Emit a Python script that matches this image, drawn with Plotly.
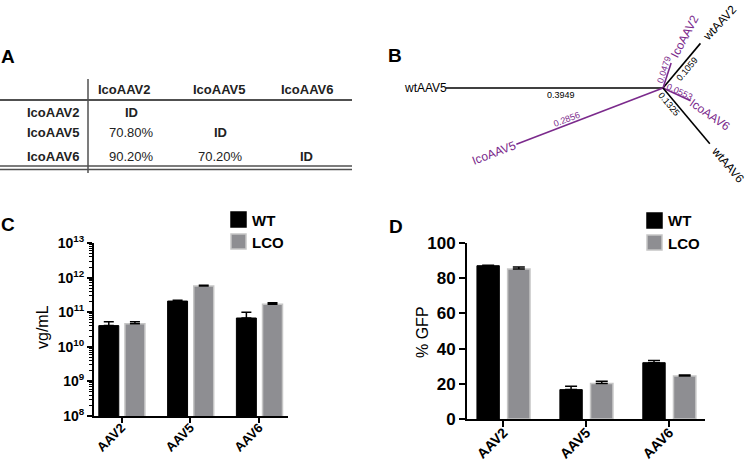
import numpy as np
import plotly.graph_objects as go

# ---- panel A: sequence identity table ----
seq_names = ["IcoAAV2", "IcoAAV5", "IcoAAV6"]
identity = [["ID", "", ""],
            ["70.80%", "ID", ""],
            ["90.20%", "70.20%", "ID"]]

# ---- panel B: unrooted tree (branch lengths) ----
tips = ["wtAAV5", "IcoAAV5", "wtAAV2", "IcoAAV2", "IcoAAV6", "wtAAV6"]
branch_len = [0.3949, 0.2856, 0.1059, 0.0479, 0.0553, 0.1325]
branch_angle = [180, 201, 50, 72, -25, -50]
codon_opt = [False, True, False, True, True, False]

# ---- panels C / D ----
serotypes = ["AAV2", "AAV5", "AAV6"]
titer_wt = [4.1e10, 2.1e11, 6.8e10]
titer_wt_err = [1.2e10, 0.1e11, 3.2e10]
titer_lco = [4.6e10, 5.7e11, 1.7e11]
titer_lco_err = [0.7e10, 0.35e11, 0.16e11]
gfp_wt = [87.1, 16.7, 32.0]
gfp_wt_err = [0.3, 1.9, 1.3]
gfp_lco = [85.2, 20.1, 24.4]
gfp_lco_err = [1.2, 1.3, 0.6]

W, H = 747, 462
FONT = "Arial, Liberation Sans, sans-serif"
PURPLE = "#7b2a8c"
GREY = "#8e8e92"
GREY_EDGE = "#c6c6c6"


def px(x):
    return x / W


def py(y):
    return 1 - y / H


def note(x, y, text, size, color="black", ref="paper", **kw):
    d = dict(x=x, y=y, xref=ref, yref=ref if ref == "paper" else "y3", text=text, showarrow=False,
             xanchor="center", yanchor="middle", font=dict(size=size, color=color, family=FONT))
    if ref != "paper":
        d["xref"] = "x3"
    d.update(kw)
    return d


fig = go.Figure()
ann = []
shapes = []

# panel letters
for letter, (lx, ly) in zip("ABCD", [(8, 56), (395, 55), (8, 224), (396, 226)]):
    ann.append(note(px(lx), py(ly), "<b>%s</b>" % letter, 19))

# ---- table (A) ----
head_x = [124, 219, 307]
cell_x = [131, 220, 306]
row_y = [112, 133, 156]
for name, hx in zip(seq_names, head_x):
    ann.append(note(px(hx), py(90), "<b>%s</b>" % name, 13, "#222"))
for i, name in enumerate(seq_names):
    ann.append(note(px(82), py(row_y[i]), "<b>%s</b>" % name, 13, "#222", xanchor="right"))
    for j, val in enumerate(identity[i]):
        if not val:
            continue
        txt = "<b>%s</b>" % val if val == "ID" else val
        ann.append(note(px(cell_x[j]), py(row_y[i]), txt, 13, "#222"))
line_col = "#505050"
shapes.append(dict(type="line", xref="paper", yref="paper", x0=px(0), x1=px(352), y0=py(100), y1=py(100),
                   line=dict(color=line_col, width=2)))
shapes.append(dict(type="line", xref="paper", yref="paper", x0=px(88), x1=px(88), y0=py(79), y1=py(173),
                   line=dict(color=line_col, width=1.5)))
for yy in (166, 169.5):
    shapes.append(dict(type="line", xref="paper", yref="paper", x0=px(0), x1=px(352), y0=py(yy), y1=py(yy),
                       line=dict(color=line_col, width=1.5)))

# ---- tree (B) ----
S = 550.0  # px per unit branch length
cx, cy = 663, 88
tip_dir = [180, 201, 47, 62, -35, -50]
tip_dist = [20, 24, 28, 30, 24, 28]
len_t = [0.47, 0.64, 0.52, 0.67, 0.56, 0.22]
len_off = [-7, 5, 6, -5, -4, 6]


def text_angle(a):
    a = (a + 180) % 360 - 180
    if -90 < a < 90:
        return -a
    return -(a - 180) if a > 0 else -(a + 180)


for name, L, a, opt, d_dir, d, t, off in zip(tips, branch_len, branch_angle, codon_opt,
                                              tip_dir, tip_dist, len_t, len_off):
    col = PURPLE if opt else "black"
    r = np.radians(a)
    ex, ey = L * np.cos(r), L * np.sin(r)
    fig.add_trace(go.Scatter(x=[0, ex], y=[0, ey], mode="lines", line=dict(color=col, width=1.6),
                             xaxis="x3", yaxis="y3", hoverinfo="skip", showlegend=False))
    rd = np.radians(d_dir)
    ann.append(note(ex + d / S * np.cos(rd), ey + d / S * np.sin(rd), name, 12, col, ref="tree",
                    textangle=text_angle(d_dir)))
    lx = t * ex + off / S * np.sin(r)
    ly = t * ey - off / S * np.cos(r)
    ann.append(note(lx, ly, "%.4f" % L, 9, col, ref="tree", textangle=text_angle(a)))

# ---- bars (C) ----
err_common = dict(type="data", symmetric=False, color="black", thickness=1.5)
fig.add_trace(go.Bar(x=serotypes, y=titer_wt, width=0.29, offset=-0.33, name="WT",
                     marker=dict(color="black", line=dict(color="black", width=1)),
                     error_y=dict(array=titer_wt_err, arrayminus=[0] * 3, width=5, **err_common),
                     xaxis="x", yaxis="y", showlegend=False))
fig.add_trace(go.Bar(x=serotypes, y=titer_lco, width=0.29, offset=0.05, name="LCO",
                     marker=dict(color=GREY, line=dict(color=GREY_EDGE, width=1.5)),
                     error_y=dict(array=titer_lco_err, arrayminus=[0] * 3, width=5, **err_common),
                     xaxis="x", yaxis="y", showlegend=False))

# ---- bars (D) ----
fig.add_trace(go.Bar(x=serotypes, y=gfp_wt, width=0.27, offset=-0.32, name="WT",
                     marker=dict(color="black", line=dict(color="black", width=1)),
                     error_y=dict(array=gfp_wt_err, arrayminus=[0] * 3, width=6, **err_common),
                     xaxis="x2", yaxis="y2", showlegend=False))
fig.add_trace(go.Bar(x=serotypes, y=gfp_lco, width=0.27, offset=0.05, name="LCO",
                     marker=dict(color=GREY, line=dict(color=GREY_EDGE, width=1.5)),
                     error_y=dict(array=gfp_lco_err, arrayminus=[0] * 3, width=6, **err_common),
                     xaxis="x2", yaxis="y2", showlegend=False))

# legends drawn by hand
for (bx, by0, tx) in [(231, 212, 250), (647, 213, 666)]:
    for k, (lab, fill, edge) in enumerate([("WT", "black", "black"), ("LCO", GREY, GREY_EDGE)]):
        y0 = by0 + k * 22
        shapes.append(dict(type="rect", xref="paper", yref="paper", x0=px(bx), x1=px(bx + 15),
                           y0=py(y0 + 15), y1=py(y0), fillcolor=fill, line=dict(color=edge, width=1.5)))
        ann.append(note(px(tx), py(y0 + 8), "<b>%s</b>" % lab, 15, xanchor="left"))

# axis titles
ann.append(note(px(42), py(327), "vg/mL", 16, textangle=-90))
ann.append(note(px(422), py(332), "% GFP", 16, textangle=-90))

decades = list(range(8, 14))
minor_vals = [m * 10.0 ** e for e in range(8, 13) for m in range(2, 10)]

axis_common = dict(showline=True, linecolor="black", linewidth=2, ticks="outside", tickcolor="black",
                   tickwidth=2, showgrid=False, zeroline=False, fixedrange=True, automargin=False)

fig.update_layout(
    width=W, height=H, margin=dict(l=0, r=0, t=0, b=0, pad=0), autosize=False,
    paper_bgcolor="white", plot_bgcolor="white", font=dict(family=FONT, color="black"),
    barmode="overlay", showlegend=False,
    xaxis=dict(domain=[px(94), px(288)], anchor="y", type="category", range=[-0.4, 2.42],
               ticklen=5, tickangle=-45, ticklabelstandoff=-8,
               tickfont=dict(size=13, weight="bold"), **axis_common),
    yaxis=dict(domain=[py(416), py(243)], anchor="x", type="log", range=[8, 13],
               tickvals=[10.0 ** e for e in decades],
               ticktext=["<b>10<sup>%d</sup></b>" % e for e in decades],
               ticklen=5, tickfont=dict(size=14),
               minor=dict(tickvals=minor_vals, ticks="outside", ticklen=3, tickwidth=1, tickcolor="black"),
               **axis_common),
    xaxis2=dict(domain=[px(467), px(705)], anchor="y2", type="category", range=[-0.44, 2.43],
                ticklen=6, tickangle=-45, ticklabelstandoff=-8,
                tickfont=dict(size=14, weight="bold"), **axis_common),
    yaxis2=dict(domain=[py(419), py(243)], anchor="x2", range=[0, 100], dtick=20,
                ticklen=6, tickfont=dict(size=17, weight="bold"), **axis_common),
    xaxis3=dict(domain=[px(400), 1], anchor="y3", range=[(400 - cx) / S, (747 - cx) / S],
                visible=False, fixedrange=True, automargin=False),
    yaxis3=dict(domain=[py(180), 1], anchor="x3", range=[-(180 - cy) / S, cy / S],
                visible=False, fixedrange=True, automargin=False),
    annotations=ann, shapes=shapes,
)

# the page's default body margin would shift the figure by 8px
fig.write_html("out.html", config=dict(displayModeBar=False),
               post_script="document.body.style.margin='0';")
